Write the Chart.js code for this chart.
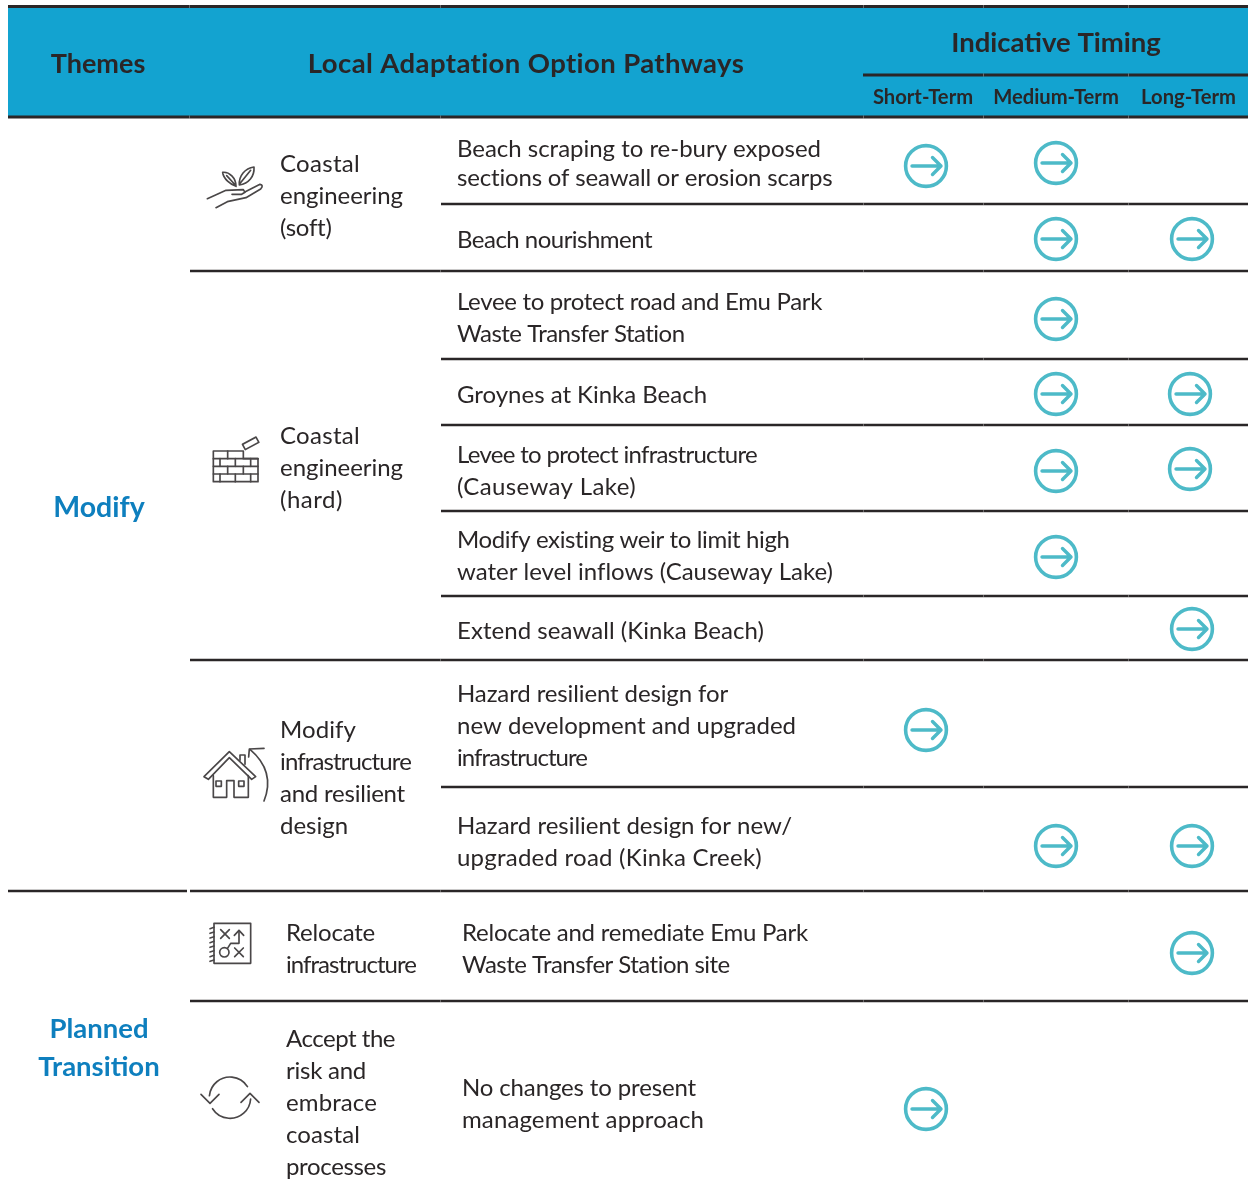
<!DOCTYPE html>
<html>
<head>
<meta charset="utf-8">
<title>Local Adaptation Option Pathways</title>
<script src="https://cdn.jsdelivr.net/npm/chart.js@4"></script>
<style>
    html, body { margin: 0; padding: 0; background: #fff; }
    canvas { display: block; }
</style>
</head>
<body>
<canvas id="pathwayChart" width="1254" height="1185"></canvas>
<script>
// table content
const timingLabels = ['Short-Term', 'Medium-Term', 'Long-Term'];
const themes = [['Modify'], ['Planned', 'Transition']];
const optionGroups = [
    ['Coastal', 'engineering', '(soft)'],
    ['Coastal', 'engineering', '(hard)'],
    ['Modify', 'infrastructure', 'and resilient', 'design'],
    ['Relocate', 'infrastructure'],
    ['Accept the', 'risk and', 'embrace', 'coastal', 'processes']
];
const pathways = [
    ['Beach scraping to re-bury exposed', 'sections of seawall or erosion scarps'],
    ['Beach nourishment'],
    ['Levee to protect road and Emu Park', 'Waste Transfer Station'],
    ['Groynes at Kinka Beach'],
    ['Levee to protect infrastructure', '(Causeway Lake)'],
    ['Modify existing weir to limit high', 'water level inflows (Causeway Lake)'],
    ['Extend seawall (Kinka Beach)'],
    ['Hazard resilient design for', 'new development and upgraded', 'infrastructure'],
    ['Hazard resilient design for new/', 'upgraded road (Kinka Creek)'],
    ['Relocate and remediate Emu Park', 'Waste Transfer Station site'],
    ['No changes to present', 'management approach']
];

// 1 = arrow in that timing column, one entry per pathway
const shortTerm  = [1, 0, 0, 0, 0, 0, 0, 1, 0, 0, 1];
const mediumTerm = [1, 1, 1, 1, 1, 1, 0, 0, 1, 0, 0];
const longTerm   = [0, 1, 0, 1, 1, 0, 1, 0, 1, 1, 0];

// layout, in picture pixels
const columnX = [926, 1056, 1192];
const arrowY = [163, 239, 319, 394, 471, 557, 629, 730, 846, 953, 1109];
const arrowNudge = { '0:0': [0, 3], '2:3': [-2, 0], '2:4': [-2, -2] };
const pathwayBaseline = [157, 248, 310, 403, 463, 548, 639, 702, 834, 941, 1096];
const pathwayRight = [
    [821, 833], [652], [822, 685], [707], [757, 636], [790, 833],
    [764], [728, 796, 587], [792, 762], [808, 730], [696, 704]
];
const groupBaseline = [172, 444, 738, 941, 1047];
const groupRight = [
    [360, 403, 331], [360, 403, 343], [356, 411, 405, 348], [375, 416], [395, 366, 377, 360, 386]
];
const themeBaseline = [517, 1038];
const themeSize = [28.5, 27.5];
const rules = [
    [204, 441], [271, 190], [359, 441], [425, 441], [511, 441],
    [596, 441], [660, 190], [787, 441], [1001, 190]
];
const seams = [189, 440, 863, 983, 1128];

const TEXT_FONT = 'Lato';
const INK = '#2a2627';
const LINE_HEIGHT = 32;

function arrowSprite() {
    const c = document.createElement('canvas');
    c.width = 48;
    c.height = 48;
    const g = c.getContext('2d');
    g.strokeStyle = '#4dbac8';
    g.lineCap = 'round';
    g.lineJoin = 'round';
    g.lineWidth = 3.6;
    g.beginPath();
    g.arc(24, 24, 20.4, 0, Math.PI * 2);
    g.stroke();
    g.lineWidth = 3.4;
    g.beginPath();
    g.moveTo(10, 24);
    g.lineTo(39, 24);
    g.moveTo(30.5, 15.5);
    g.lineTo(39, 24);
    g.lineTo(30.5, 32.5);
    g.stroke();
    return c;
}

function arrowPoints(flags, col) {
    const pts = [];
    flags.forEach((on, row) => {
        if (!on) return;
        const n = arrowNudge[col + ':' + row] || [0, 0];
        pts.push({ x: columnX[col] + n[0], y: arrowY[row] + n[1] });
    });
    return pts;
}

function polyline(g, pts) {
    g.beginPath();
    pts.forEach((p, i) => i ? g.lineTo(p[0], p[1]) : g.moveTo(p[0], p[1]));
    g.stroke();
}

// icons are sketched in zoomed units (3 per pixel) from their own origin
function withIcon(ctx, x, y, draw) {
    ctx.save();
    ctx.translate(x, y);
    ctx.scale(1 / 3, 1 / 3);
    ctx.strokeStyle = '#4a4748';
    ctx.lineWidth = 5;
    ctx.lineJoin = 'round';
    ctx.lineCap = 'round';
    draw(ctx);
    ctx.restore();
}

function handIcon(g) {
    g.beginPath();
    g.moveTo(138, 94);
    g.bezierCurveTo(122, 88, 100, 72, 98, 52);
    g.bezierCurveTo(118, 50, 138, 68, 138, 94);
    g.moveTo(148, 90);
    g.bezierCurveTo(146, 62, 165, 40, 192, 36);
    g.bezierCurveTo(194, 64, 176, 86, 148, 90);
    g.moveTo(110, 62);
    g.lineTo(136, 90);
    g.moveTo(182, 46);
    g.lineTo(148, 88);
    g.stroke();
    polyline(g, [[52, 131], [108, 106], [160, 104], [165, 112], [155, 118], [126, 118]]);
    g.beginPath();
    g.moveTo(166, 110);
    g.lineTo(210, 88);
    g.quadraticCurveTo(222, 90, 212, 102);
    g.lineTo(168, 128);
    g.lineTo(112, 140);
    g.lineTo(78, 158);
    g.stroke();
}

function brickIcon(g) {
    polyline(g, [[70, 93], [160, 93], [160, 116], [204, 116], [204, 185], [70, 185], [70, 93]]);
    [116, 139, 162].forEach(y => polyline(g, [[70, y], [204, y]]));
    [[113, 93, 116], [90, 116, 139], [136, 116, 139], [182, 116, 139], [113, 139, 162],
     [160, 139, 162], [90, 162, 185], [136, 162, 185], [182, 162, 185]]
        .forEach(v => polyline(g, [[v[0], v[1]], [v[0], v[2]]]));
    g.save();
    g.translate(182, 70);
    g.rotate(-28 * Math.PI / 180);
    g.strokeRect(-23, -9, 46, 18);
    g.restore();
}

function houseIcon(g) {
    polyline(g, [[55, 133], [42, 125], [118, 50], [197, 125], [185, 133], [118, 68], [55, 133]]);
    polyline(g, [[70, 122], [70, 187], [110, 187], [110, 137], [132, 137], [132, 187], [175, 187], [175, 122]]);
    g.strokeRect(78, 138, 16, 16);
    g.strokeRect(146, 138, 16, 16);
    polyline(g, [[150, 76], [150, 60], [165, 60], [165, 88]]);
    g.beginPath();
    g.moveTo(222, 198);
    g.bezierCurveTo(245, 140, 235, 90, 180, 43);
    g.stroke();
    polyline(g, [[176, 66], [178, 42], [222, 40]]);
}

function planIcon(g) {
    g.strokeRect(72, 40, 110, 120);
    for (let y = 52; y <= 152; y += 14) polyline(g, [[60, y + 4], [72, y]]);
    [[105, 72, 13], [147, 127, 13]].forEach(m => {
        polyline(g, [[m[0] - m[2], m[1] - m[2]], [m[0] + m[2], m[1] + m[2]]]);
        polyline(g, [[m[0] - m[2], m[1] + m[2]], [m[0] + m[2], m[1] - m[2]]]);
    });
    g.beginPath();
    g.arc(103, 127, 14, 0, Math.PI * 2);
    g.stroke();
    polyline(g, [[112, 116], [122, 100], [147, 100], [147, 62]]);
    polyline(g, [[133, 76], [147, 61], [161, 76]]);
}

function cycleIcon(g) {
    g.beginPath();
    g.arc(120, 98, 62, Math.PI * 1.03, Math.PI * 1.82);
    g.stroke();
    g.beginPath();
    g.arc(120, 98, 62, Math.PI * 0.02, Math.PI * 0.82);
    g.stroke();
    polyline(g, [[33, 88], [60, 115], [87, 88]]);
    polyline(g, [[153, 112], [180, 85], [207, 112]]);
}

const tablePlugin = {
    id: 'tablePlugin',
    beforeDatasetsDraw(chart) {
        const ctx = chart.ctx;
        const x = v => chart.scales.x.getPixelForValue(v);
        const y = v => chart.scales.y.getPixelForValue(v);

        const rule = (yv, x0, x1, w) => {
            ctx.fillStyle = INK;
            ctx.fillRect(x(x0), y(yv) - w / 2, x(x1) - x(x0), w);
            // thin lighter seams where the table cells meet
            ctx.fillStyle = 'rgba(255,255,255,0.3)';
            seams.filter(s => s > x0 && s < x1).forEach(s => ctx.fillRect(x(s), y(yv) - w / 2, 1, w));
        };
        const write = (text, xv, yv, font, color, align, spacing) => {
            ctx.font = font;
            ctx.fillStyle = color;
            ctx.textAlign = align || 'left';
            ctx.textBaseline = 'alphabetic';
            ctx.letterSpacing = (spacing || 0) + 'px';
            ctx.fillText(text, x(xv), y(yv));
        };
        // body text: spacing is fitted so each line ends where it does in the picture
        const block = (lines, rights, xv, yv, step) => lines.forEach((t, i) => {
            const font = `24px ${TEXT_FONT}`;
            ctx.font = font;
            ctx.letterSpacing = '0px';
            const spare = (rights[i] - xv) - ctx.measureText(t).width;
            write(t, xv, yv + i * step, font, INK, 'left', spare / t.length);
        });

        // header band
        ctx.save();
        ctx.fillStyle = '#13a3d0';
        ctx.fillRect(x(8), y(7), x(1248) - x(8), y(117) - y(7));
        rule(6.5, 8, 1248, 3);
        rule(117, 8, 1248, 3);
        rule(75, 863, 1248, 3);

        const head = `bold 27.5px ${TEXT_FONT}`;
        write('Themes', 98, 73, `bold 27px ${TEXT_FONT}`, INK, 'center');
        write('Local Adaptation Option Pathways', 526, 73, head, INK, 'center', 0.4);
        write('Indicative Timing', 1056, 52, head, INK, 'center');
        const subX = [923, 1056, 1188.5];
        timingLabels.forEach((t, i) => write(t, subX[i], 104, `bold 20.2px ${TEXT_FONT}`, INK, 'center'));

        // row rules
        rules.forEach(r => rule(r[0], r[1], 1248, 2.5));
        rule(891, 8, 187, 2.5);
        rule(891, 190, 1248, 2.5);

        // theme names
        const themeX = [99, 99];
        themes.forEach((lines, i) => lines.forEach((t, j) =>
            write(t, themeX[i], themeBaseline[i] + j * 38, `bold ${themeSize[i]}px ${TEXT_FONT}`, '#0e7fbe', 'center')));

        // option groups and pathways
        const groupX = [280, 280, 280, 286, 286];
        optionGroups.forEach((lines, i) => block(lines, groupRight[i], groupX[i], groupBaseline[i], LINE_HEIGHT));
        pathways.forEach((lines, i) => {
            const step = i === 0 ? 29 : LINE_HEIGHT;
            block(lines, pathwayRight[i], i < 9 ? 457 : 462, pathwayBaseline[i], step);
        });
        ctx.letterSpacing = '0px';

        withIcon(ctx, 190, 155, handIcon);
        withIcon(ctx, 190, 420, brickIcon);
        withIcon(ctx, 190, 735, houseIcon);
        withIcon(ctx, 190, 910, planIcon);
        withIcon(ctx, 190, 1065, cycleIcon);
        ctx.restore();
    }
};

const sprite = arrowSprite();
const pointStyle = { pointStyle: sprite, pointRadius: 24, pointHoverRadius: 24, showLine: false, clip: false };

const ctx = document.getElementById('pathwayChart').getContext('2d');
const chart = new Chart(ctx, {
    type: 'scatter',
    data: {
        datasets: [
            { label: timingLabels[0], data: arrowPoints(shortTerm, 0), ...pointStyle },
            { label: timingLabels[1], data: arrowPoints(mediumTerm, 1), ...pointStyle },
            { label: timingLabels[2], data: arrowPoints(longTerm, 2), ...pointStyle }
        ]
    },
    options: {
        responsive: false,
        animation: false,
        layout: { padding: 0, autoPadding: false },
        plugins: { legend: { display: false }, tooltip: { enabled: false } },
        scales: {
            x: { type: 'linear', min: 0, max: 1254, display: false },
            y: { type: 'linear', min: 0, max: 1185, reverse: true, display: false }
        }
    },
    plugins: [tablePlugin]
});
</script>
</body>
</html>
